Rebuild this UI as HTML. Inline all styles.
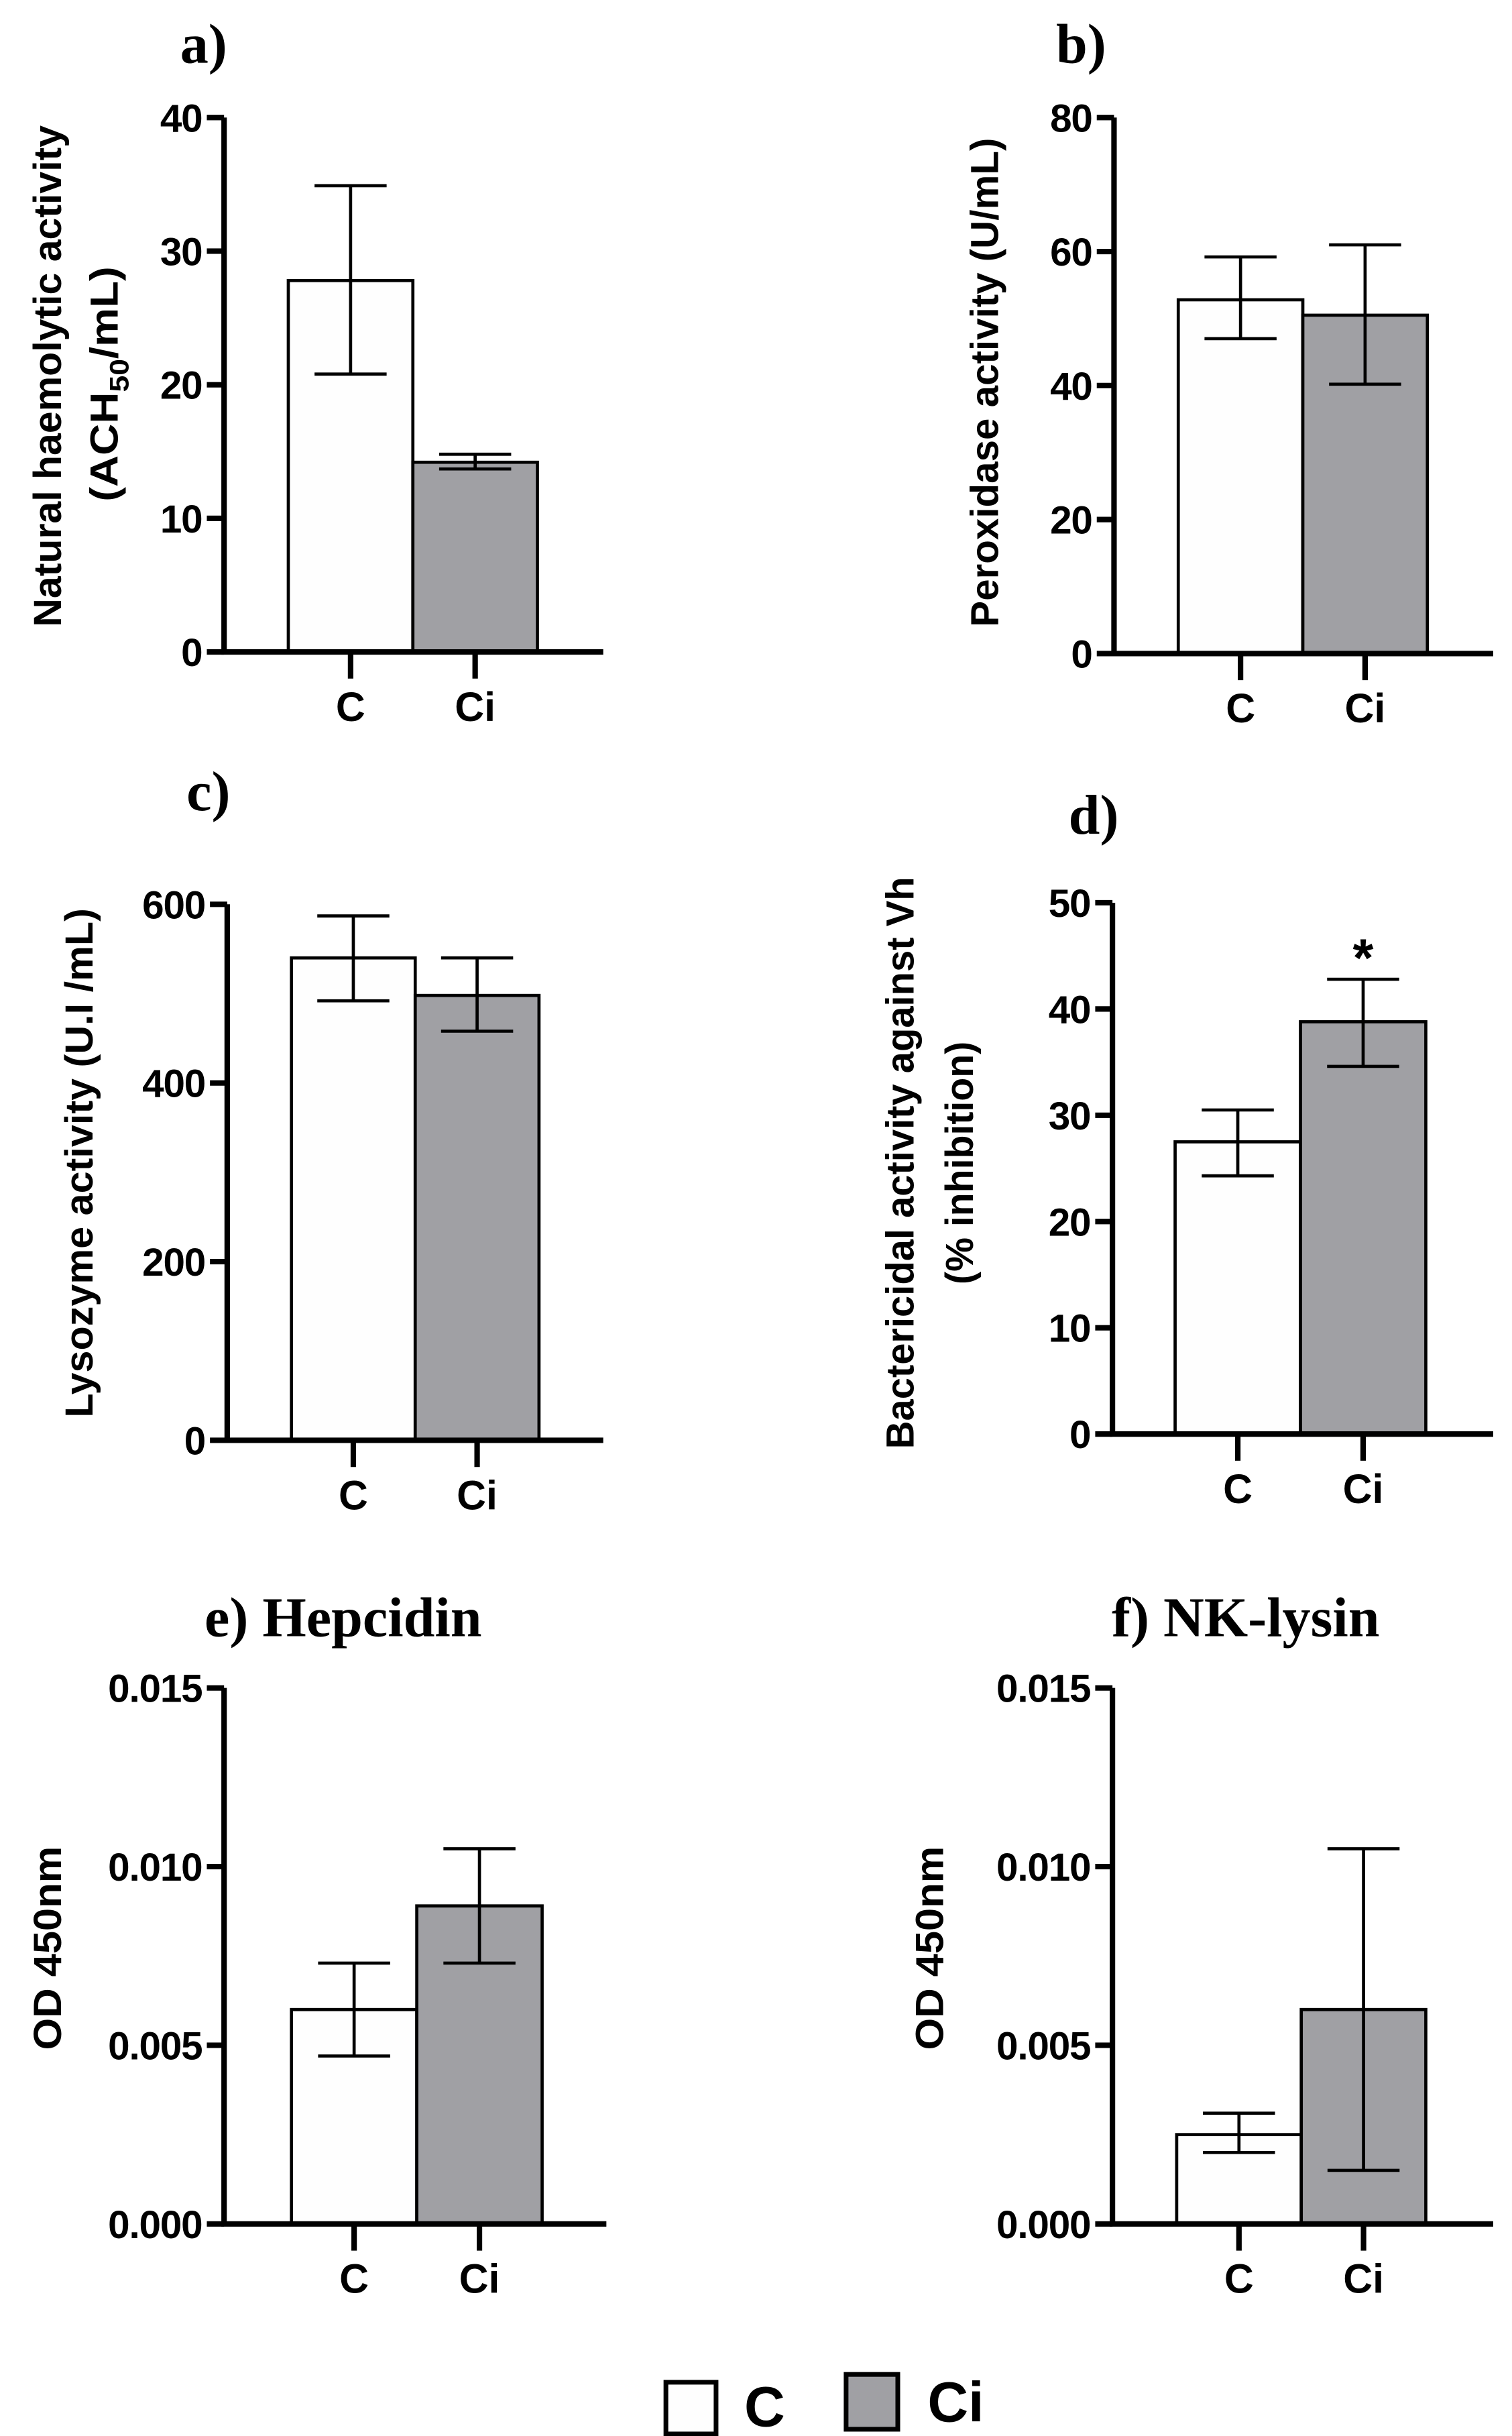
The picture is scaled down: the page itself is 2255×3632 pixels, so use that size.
<!DOCTYPE html>
<html><head><meta charset="utf-8"><style>
html,body{margin:0;padding:0;background:#fff}
svg{display:block}
text{font-family:"Liberation Sans",sans-serif;font-weight:bold;fill:#000}
.ttl{font-family:"Liberation Serif",serif;font-size:36px}
</style></head><body>
<svg id="fig" width="2255" height="3632" viewBox="0 0 965 1554.3" xmlns="http://www.w3.org/2000/svg"></svg>
<script>
const categories = ["C","Ci"];
const panelTitles = ["a)","b)","c)","d)","e) Hepcidin","f) NK-lysin"];
const meanA = [27.8, 14.2], loA = [20.8, 13.7], hiA = [34.9, 14.8], ticksA = ["0","10","20","30","40"];
const meanB = [52.8, 50.5], loB = [47, 40.2], hiB = [59.2, 61], ticksB = ["0","20","40","60","80"];
const meanC = [540, 498], loC = [492, 458], hiC = [587, 540], ticksC = ["0","200","400","600"];
const meanD = [27.5, 38.8], loD = [24.3, 34.6], hiD = [30.5, 42.8], ticksD = ["0","10","20","30","40","50"];
const meanE = [0.0060, 0.0089], loE = [0.0047, 0.0073], hiE = [0.0073, 0.0105], ticksE = ["0.000","0.005","0.010","0.015"];
const meanF = [0.0025, 0.0060], loF = [0.0020, 0.0015], hiF = [0.0031, 0.0105], ticksF = ["0.000","0.005","0.010","0.015"];
const sigD = ["", "*"];

const NS="http://www.w3.org/2000/svg";
const svg=document.getElementById('fig');
function mk(tag,attrs,parent,txt){const e=document.createElementNS(NS,tag);for(const k in attrs)e.setAttribute(k,attrs[k]);if(txt!==undefined)e.textContent=txt;(parent||svg).appendChild(e);return e;}

const layout=[
 {ax:143,top:75,bot:416,xr:385,b0:184,bw:79.5,title:[130,28],yt:["Natural haemolytic activity","(ACH50/mL)"],ytx:[30,66],yc:[240,245],yl:[320,150]},
 {ax:711,top:75,bot:417,xr:953,b0:752,bw:79.5,title:[690,28],yt:["Peroxidase activity (U/mL)"],ytx:[628],yc:[244],yl:[312]},
 {ax:145,top:577,bot:919,xr:385,b0:186,bw:79,title:[133,505],yt:["Lysozyme activity (U.I /mL)"],ytx:[50],yc:[742],yl:[325]},
 {ax:710,top:576,bot:915,xr:953,b0:750,bw:80,title:[698,520],yt:["Bactericidal activity against Vh","(% inhibition)"],ytx:[574,612],yc:[742,742],yl:[365,155]},
 {ax:143,top:1077,bot:1419,xr:387,b0:186,bw:80,title:[219,1032],yt:["OD 450nm"],ytx:[30],yc:[1243],yl:[130]},
 {ax:710,top:1077,bot:1419,xr:953,b0:751,bw:79.5,title:[795,1032],yt:["OD 450nm"],ytx:[593],yc:[1243],yl:[130]}
];
const data=[[meanA,loA,hiA,ticksA],[meanB,loB,hiB,ticksB],[meanC,loC,hiC,ticksC],[meanD,loD,hiD,ticksD],[meanE,loE,hiE,ticksE],[meanF,loF,hiF,ticksF]];
const fills=["#fefefe","#a0a0a4"];

layout.forEach((L,pi)=>{
 const [mean,lo,hi,ticks]=data[pi];
 const tmax=parseFloat(ticks[ticks.length-1]);
 const y=v=>L.bot-(v/tmax)*(L.bot-L.top);
 const g=mk('g',{},svg);
 
 
 const t=mk('text',{x:L.title[0],y:L.title[1]+12,'text-anchor':'middle',class:'ttl'},g,panelTitles[pi]);
 
 
 mean.forEach((m,i)=>{
  const x=L.b0+i*L.bw;
  const r=mk('rect',{x:x,y:y(m),width:L.bw,height:L.bot-y(m),fill:fills[i],stroke:'#000','stroke-width':2},g);
  
  
  const cx=x+L.bw/2;
  const eb=mk('path',{d:`M${cx} ${y(lo[i])}V${y(hi[i])}M${cx-23} ${y(hi[i])}H${cx+23}M${cx-23} ${y(lo[i])}H${cx+23}`,stroke:'#000','stroke-width':2,fill:'none'},g);
  
  
  const tk=mk('line',{x1:cx,x2:cx,y1:L.bot,y2:L.bot+17,stroke:'#000','stroke-width':3.5},g);
  
  
  const xl=mk('text',{x:cx,y:L.bot+44,'text-anchor':'middle','font-size':26},g,categories[i]);
  
  
  if(pi===3&&sigD[i]){const s=mk('text',{x:cx,y:y(hi[i])-2,'text-anchor':'middle','font-size':34,'font-family':'Liberation Serif'},g,sigD[i]);
   
   }
 });
 const a=mk('path',{d:`M${L.ax} ${L.top}V${L.bot}H${L.xr}`,stroke:'#000','stroke-width':3.5,fill:'none'},g);
 
 
 ticks.forEach(tl=>{
  const yy=y(parseFloat(tl));
  const l=mk('line',{x1:L.ax-11,x2:L.ax,y1:yy,y2:yy,stroke:'#000','stroke-width':3.5},g);
  
  
  const tx=mk('text',{x:L.ax-14,y:yy+9,'text-anchor':'end','font-size':25,'letter-spacing':'-0.5'},g,tl);
  
  
 });
 L.yt.forEach((s,k)=>{
  const xx=L.ytx[k];
  const tt=mk('text',{x:0,y:0,'text-anchor':'middle','font-size':25,textLength:L.yl[k],lengthAdjust:'spacingAndGlyphs',transform:`translate(${xx+9},${L.yc[k]}) rotate(-90)`},g);
  
  
  if(s.indexOf('ACH50')>=0){
   tt.appendChild(document.createTextNode('(ACH'));
   mk('tspan',{'font-size':17,'dy':7},tt,'50');
   mk('tspan',{'dy':-7},tt,'/mL)');
  } else tt.textContent=s;
 });
});
const lg=mk('g',{},svg);


const r1=mk('rect',{x:425,y:1520,width:32,height:33,fill:'#fefefe',stroke:'#000','stroke-width':3},lg);


const t1=mk('text',{x:475,y:1548,'font-size':36},lg,'C');


const r2=mk('rect',{x:540,y:1515,width:33,height:35,fill:'#a0a0a4',stroke:'#000','stroke-width':3},lg);


const t2=mk('text',{x:592,y:1545,'font-size':36},lg,'Ci');


</script>
</body></html>
